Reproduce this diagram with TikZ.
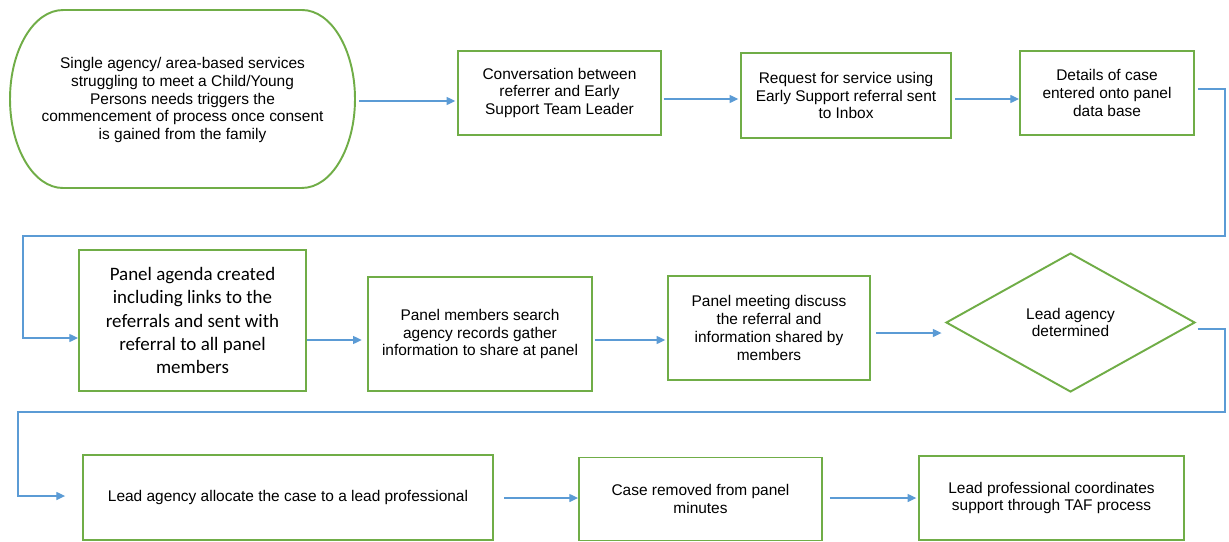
\documentclass[tikz,border=0pt]{standalone}
\usepackage{fontspec}
\usepackage{tikz}
\usetikzlibrary{arrows.meta,shapes.geometric}
\newfontfamily\arialfont{Liberation Sans}
\newfontfamily\calibrifont{Carlito}
\definecolor{boxgreen}{HTML}{70AD47}
\definecolor{flowblue}{HTML}{5B9BD5}
\tikzset{
	stepbox/.style={draw=boxgreen, line width=1.1pt, align=center, inner sep=0pt,
		font=\arialfont\fontsize{8.8}{10.2}\selectfont},
	flow/.style={draw=flowblue, line width=0.7pt, -{Triangle[length=5pt,width=4.6pt]}}
}

\begin{document}
\begin{tikzpicture}[x=0.02cm, y=-0.02cm]
			%%%%% START %%%%%
			\useasboundingbox (0,0) rectangle (1229,541);
			
			\draw[stepbox] (63,10) -- (302,10) arc[start angle=90, end angle=-90, x radius=1.06cm, y radius=1.78cm]
				-- (63,188) arc[start angle=270, end angle=90, x radius=1.06cm, y radius=1.78cm] -- cycle;
			\node[stepbox, draw=none, minimum width=6.9cm, minimum height=3.56cm] (start) at (182.5,100)
				{Single agency/ area-based services\\struggling to meet a Child/Young\\Persons needs triggers the\\commencement of process once consent\\is gained from the family};
			\node[stepbox, minimum width=4.06cm, minimum height=1.68cm] (conv) at (559.5,93)
				{Conversation between\\referrer and Early\\Support Team Leader};
			\node[stepbox, minimum width=4.2cm, minimum height=1.7cm] (request) at (846,95.5)
				{Request for service using\\Early Support referral sent\\to Inbox};
			\node[stepbox, minimum width=3.48cm, minimum height=1.68cm] (details) at (1107,93)
				{Details of case\\entered onto panel\\data base};
			
			\node[stepbox, minimum width=4.54cm, minimum height=2.82cm, font=\calibrifont\fontsize{10.8}{13.2}\selectfont] (agenda) at (192.5,320.5)
				{Panel agenda created\\including links to the\\referrals and sent with\\referral to all panel\\members};
			\node[stepbox, minimum width=4.48cm, minimum height=2.28cm] (search) at (480,334)
				{Panel members search\\agency records gather\\information to share at panel};
			\node[stepbox, minimum width=4.04cm, minimum height=2.08cm] (meeting) at (769,328)
				{Panel meeting discuss\\the referral and\\information shared by\\members};
			\node[stepbox, diamond, minimum width=4.98cm, minimum height=2.78cm] (lead) at (1070.5,322.5)
				{Lead agency\\determined};
			
			\node[stepbox, minimum width=8.2cm, minimum height=1.7cm] (allocate) at (288,497.5)
				{Lead agency allocate the case to a lead professional};
			\node[stepbox, minimum width=4.86cm, minimum height=1.66cm] (removed) at (700.5,499)
				{Case removed from panel\\minutes};
			\node[stepbox, minimum width=5.3cm, minimum height=1.68cm] (coord) at (1051.5,498)
				{Lead professional coordinates\\support through TAF process};
			
			\draw[flow, shorten <=2pt, shorten >=1pt] (start.east |- 0,101) -- (conv.west |- 0,101);
			\draw[flow, shorten <=1pt, shorten >=1pt] (conv.east |- 0,99) -- (request.west |- 0,99);
			\draw[flow, shorten <=2pt] (request.east |- 0,99) -- (details.west |- 0,99);
			\draw[flow, shorten <=2pt] (details.east |- 0,89) -| (1225,236) -| (23,338) -- (agenda.west |- 0,338);
			
			\draw[flow, shorten >=3pt] (agenda.east |- 0,340) -- (search.west |- 0,340);
			\draw[flow, shorten <=1pt, shorten >=1pt] (search.east |- 0,340) -- (meeting.west |- 0,340);
			\draw[flow, shorten <=3pt, shorten >=2pt] (meeting.east |- 0,333) -- (lead.west |- 0,333);
			\draw[flow, shorten <=1pt] (lead.east |- 0,329) -| (1225,412) -| (18,496) -- ([xshift=-0.34cm]allocate.west |- 0,496);
			
			\draw[flow, shorten <=6pt] (allocate.east |- 0,498) -- (removed.west |- 0,498);
			\draw[flow, shorten <=4pt, shorten >=1pt] (removed.east |- 0,498) -- (coord.west |- 0,498);
			%%%%% END %%%%%
\end{tikzpicture}
\end{document}
